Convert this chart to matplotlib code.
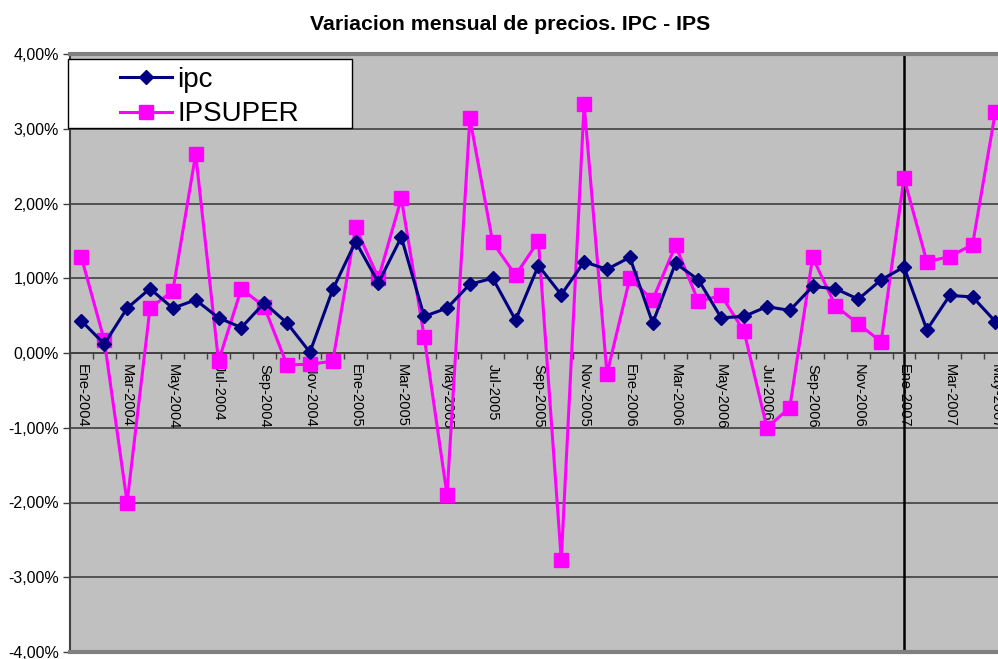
import matplotlib
matplotlib.use("Agg")
import matplotlib.pyplot as plt
from matplotlib.patches import Rectangle
from matplotlib.ticker import FixedLocator, FuncFormatter

months = ["Ene", "Feb", "Mar", "Abr", "May", "Jun", "Jul", "Ago", "Sep", "Oct", "Nov", "Dic"]
categories = [f"{m}-{y}" for y in (2004, 2005, 2006, 2007) for m in months][:41]

ipc = [0.43, 0.12, 0.60, 0.86, 0.60, 0.71, 0.47, 0.34, 0.67, 0.40, 0.01, 0.85,
       1.49, 0.94, 1.55, 0.49, 0.60, 0.92, 1.00, 0.44, 1.17, 0.78, 1.22, 1.12,
       1.28, 0.40, 1.20, 0.98, 0.47, 0.49, 0.62, 0.57, 0.89, 0.86, 0.72, 0.98,
       1.15, 0.31, 0.77, 0.75, 0.42]
ipsuper = [1.28, 0.17, -2.00, 0.60, 0.83, 2.66, -0.11, 0.86, 0.62, -0.16, -0.15, -0.11,
           1.68, 1.00, 2.07, 0.22, -1.90, 3.14, 1.48, 1.04, 1.50, -2.77, 3.33, -0.28,
           1.00, 0.71, 1.44, 0.69, 0.77, 0.29, -1.00, -0.73, 1.28, 0.63, 0.39, 0.15,
           2.34, 1.22, 1.29, 1.45, 3.23]
y_ticks = [-4, -3, -2, -1, 0, 1, 2, 3, 4]
marker_month = "Ene-2007"

W, H = 998, 659
fig = plt.figure(figsize=(W / 100, H / 100), dpi=100)
plt.rcParams['font.family'] = ['Liberation Sans', 'DejaVu Sans']

n_span = 42  # categories across axes width (axes extends past right edge)
step = 22.85
left_px, top_px, bot_px = 70, 54, 652
axw_px = n_span * step
axh_px = bot_px - top_px
ax = fig.add_axes([left_px / W, (H - bot_px) / H, axw_px / W, axh_px / H])
ax.set_facecolor("#C0C0C0")

x = list(range(len(categories)))
ax.set_xlim(-0.5, n_span - 0.5)
ax.set_ylim(-4, 4)

for yt in y_ticks:
    ax.axhline(yt, color="#404040", lw=1.2, zorder=1)

ax.axvline(categories.index(marker_month), color="black", lw=1.8, zorder=2)

ax.plot(x, ipc, color="#000080", lw=2.2, marker="D", ms=7.2, mec="#000080",
        mfc="#000080", label="ipc", zorder=4)
ax.plot(x, ipsuper, color="#FF00FF", lw=2.2, marker="s", ms=10.5, mec="#FF00FF",
        mfc="#FF00FF", label="IPSUPER", zorder=3)

for s in ["top", "right"]:
    ax.spines[s].set_visible(False)
ax.spines["left"].set_color("#404040")
ax.spines["left"].set_linewidth(1.5)
ax.spines["bottom"].set_position(("data", 0))
ax.spines["bottom"].set_color("#404040")
ax.spines["bottom"].set_linewidth(1.2)
ax.axhline(4, color="#808080", lw=3, zorder=5, clip_on=False)
ax.axhline(-4, color="#808080", lw=3, zorder=5, clip_on=False)

ax.set_yticks(y_ticks)
ax.yaxis.set_major_formatter(FuncFormatter(lambda v, p: f"{v:.2f}%".replace(".", ",")))
ax.tick_params(axis="y", length=5, width=1, color="#404040", labelsize=11.5, pad=3)

ax.xaxis.set_major_locator(FixedLocator([i - 0.5 for i in range(n_span + 1)]))
ax.xaxis.set_major_formatter(FuncFormatter(lambda v, p: ""))
ax.tick_params(axis="x", which="major", direction="out", length=4, width=1, color="#404040")
ax.set_xticks(x[::2], minor=True)
ax.set_xticklabels(categories[::2], minor=True, rotation=-90, fontsize=10.5, va="top", ha="center")
ax.tick_params(axis="x", which="minor", length=0, pad=8)

fig.text(510 / W, 1 - 24 / H, "Variacion mensual de precios. IPC - IPS", fontsize=15.3,
         fontweight="bold", ha="center", va="center")

# legend box (Excel-style with wide side padding)
lx0, ly0, lx1, ly1 = 68, 59, 352, 128
ax.add_patch(Rectangle(((lx0 - left_px) / axw_px, (bot_px - ly1) / axh_px),
                       (lx1 - lx0) / axw_px, (ly1 - ly0) / axh_px,
                       transform=ax.transAxes, facecolor="white", edgecolor="black",
                       lw=1.0, clip_on=False, zorder=9))
leg = ax.legend(loc="upper left",
                bbox_to_anchor=((120 - left_px) / axw_px, (bot_px - 67) / axh_px),
                fontsize=20, frameon=False, borderpad=0, labelspacing=0.3,
                handlelength=1.87, handletextpad=0.2, borderaxespad=0)
leg.set_zorder(10)

fig.savefig("out.png", dpi=100)
